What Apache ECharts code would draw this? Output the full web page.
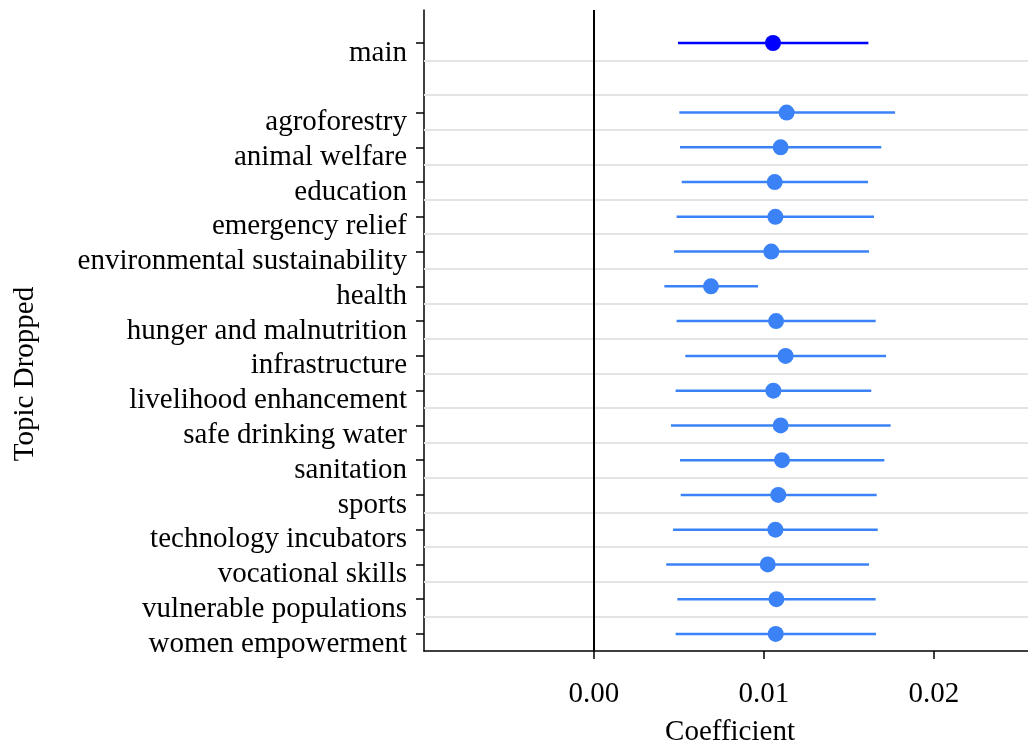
<!DOCTYPE html>
<html><head><meta charset="utf-8">
<script src="https://cdn.jsdelivr.net/npm/echarts@6/dist/echarts.min.js"></script>
<style>html,body{margin:0;padding:0;background:#fff}#c{width:1028px;height:746px}</style>
</head><body><div id="c"></div>
<script>
const categories = ['main', 'agroforestry', 'animal welfare', 'education', 'emergency relief',
  'environmental sustainability', 'health', 'hunger and malnutrition', 'infrastructure',
  'livelihood enhancement', 'safe drinking water', 'sanitation', 'sports',
  'technology incubators', 'vocational skills', 'vulnerable populations', 'women empowerment'];
const estimates = [0.01053, 0.01133, 0.01098, 0.01063, 0.01067, 0.01043, 0.00688, 0.01071, 0.01127,
  0.01055, 0.01098, 0.01106, 0.01084, 0.01067, 0.01022, 0.01073, 0.01069];
const lower = [0.00494, 0.00502, 0.00506, 0.00516, 0.00486, 0.00471, 0.00414, 0.00486, 0.00537,
  0.00480, 0.00453, 0.00506, 0.00510, 0.00465, 0.00425, 0.00490, 0.00480];
const upper = [0.01614, 0.01771, 0.01690, 0.01612, 0.01647, 0.01618, 0.00965, 0.01657, 0.01718,
  0.01631, 0.01745, 0.01708, 0.01663, 0.01669, 0.01618, 0.01657, 0.01659];
const xTicks = [0, 0.01, 0.02];
const xTickLabels = ['0.00', '0.01', '0.02'];

const MAIN_COLOR = '#0000ff';
const TOPIC_COLOR = '#3b82f6';
const FONT = 'Liberation Serif';
const FS = 29;

// row positions: "main" on row 0, an empty row, then the topics
const rows = categories.map((c, i) => (i === 0 ? 0 : i + 1));
const gridPos = [];
for (let r = 0; r < rows[rows.length - 1]; r++) gridPos.push(r + 0.5);

const ciData = categories.map((c, i) => [rows[i], lower[i], upper[i], i === 0 ? 1 : 0]);
const ptData = categories.map((c, i) => ({
  value: [estimates[i], rows[i]],
  itemStyle: { color: i === 0 ? MAIN_COLOR : TOPIC_COLOR, opacity: 1 }
}));

const chart = echarts.init(document.getElementById('c'), null, { renderer: 'canvas' });
chart.setOption({
  animation: false,
  backgroundColor: '#fff',
  textStyle: { fontFamily: FONT },
  grid: { left: 424, right: 0, top: 10, bottom: 95, containLabel: false, outerBoundsMode: 'none' },
  xAxis: {
    type: 'value', min: -0.01, max: 0.02553,
    name: 'Coefficient', nameLocation: 'middle', nameGap: 67,
    nameTextStyle: { fontFamily: FONT, fontSize: FS, color: '#000', padding: [0, 0, 0, 8] },
    axisLine: { show: true, onZero: false, lineStyle: { color: '#000', width: 1.5 } },
    axisTick: { show: true, customValues: xTicks, length: 8, lineStyle: { color: '#000', width: 1.5 } },
    axisLabel: { customValues: xTicks, margin: 29, fontFamily: FONT, fontSize: FS, color: '#000',
      formatter: v => xTickLabels[xTicks.findIndex(t => Math.abs(t - v) < 1e-9)] },
    splitLine: { show: false }
  },
  yAxis: {
    type: 'value', inverse: true, min: -0.95, max: 17.49,
    axisLine: { show: true, onZero: false, lineStyle: { color: '#000', width: 1.5 } },
    axisTick: { show: true, customValues: rows, length: 8, lineStyle: { color: '#000', width: 1.5 } },
    axisLabel: { customValues: rows, margin: 17, fontFamily: FONT, fontSize: FS, color: '#000',
      verticalAlign: 'top', lineHeight: 20,
      formatter: v => categories[rows.indexOf(Math.round(v))] },
    splitLine: { show: false }
  },
  graphic: [{
    type: 'text', x: 25, y: 374, rotation: Math.PI / 2,
    style: { text: 'Topic Dropped', fontFamily: FONT, fontSize: FS, fill: '#000',
      align: 'center', verticalAlign: 'middle' }
  }],
  series: [
    {
      type: 'line', data: [], silent: true,
      markLine: {
        silent: true, symbol: 'none', label: { show: false }, animation: false,
        lineStyle: { color: '#e4e4e4', width: 2, type: 'solid' },
        data: gridPos.map(p => ({ yAxis: p }))
      }
    },
    {
      type: 'line', data: [], silent: true, z: 3,
      markLine: {
        silent: true, symbol: 'none', label: { show: false }, animation: false,
        lineStyle: { color: '#000', width: 2, type: 'solid' },
        data: [{ xAxis: 0 }]
      }
    },
    {
      type: 'custom', z: 4, data: ciData, encode: { x: [1, 2], y: 0 },
      renderItem: (params, api) => {
        const y = api.value(0);
        const a = api.coord([api.value(1), y]);
        const b = api.coord([api.value(2), y]);
        return { type: 'line', shape: { x1: a[0], y1: a[1], x2: b[0], y2: b[1] },
          style: { stroke: api.value(3) ? MAIN_COLOR : TOPIC_COLOR, lineWidth: 2.5 } };
      }
    },
    {
      type: 'scatter', z: 5, symbol: 'circle', symbolSize: 16, data: ptData
    }
  ]
});
</script></body></html>
